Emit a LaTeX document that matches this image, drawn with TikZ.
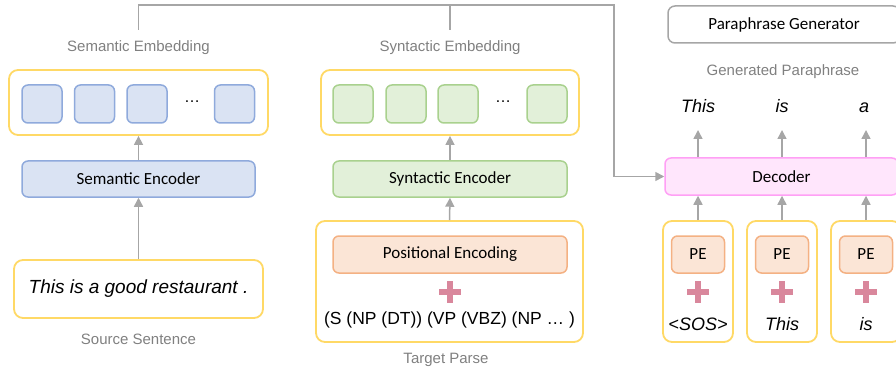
\documentclass[tikz,border=0pt]{standalone}
\usepackage{fontspec}
\setmainfont{Liberation Sans}
\newfontfamily\calfont{Carlito}
\usetikzlibrary{arrows.meta,calc}
\definecolor{yellowB}{HTML}{FFD966}
\definecolor{blueF}{HTML}{DAE3F3}
\definecolor{blueB}{HTML}{8FAADC}
\definecolor{greenF}{HTML}{E2F0D9}
\definecolor{greenB}{HTML}{A9D18E}
\definecolor{orangeF}{HTML}{FBE5D6}
\definecolor{orangeB}{HTML}{F4B183}
\definecolor{pinkF}{HTML}{FFE6FC}
\definecolor{pinkB}{HTML}{FFA0F5}
\definecolor{plusC}{HTML}{D9879C}
\definecolor{labelC}{HTML}{808080}
\definecolor{arrowC}{HTML}{A6A6A6}
\begin{document}
\begin{tikzpicture}[x=1pt,y=-1pt,
  cont/.style={draw=yellowB, line width=1.8pt, fill=white, rounded corners=9pt, inner sep=0pt},
  bluebox/.style={draw=blueB, line width=1.5pt, fill=blueF, rounded corners=6pt, inner sep=0pt},
  greenbox/.style={draw=greenB, line width=1.5pt, fill=greenF, rounded corners=6pt, inner sep=0pt},
  orangebox/.style={draw=orangeB, line width=1.5pt, fill=orangeF, rounded corners=6pt, inner sep=0pt, font=\calfont\fontsize{17}{20}\selectfont},
  pinkbox/.style={draw=pinkB, line width=1.5pt, fill=pinkF, rounded corners=6pt, inner sep=0pt, font=\calfont\fontsize{17}{20}\selectfont},
  graybox/.style={draw=arrowC, line width=1.5pt, fill=white, rounded corners=7pt, inner sep=0pt, font=\calfont\fontsize{17}{20}\selectfont},
  enclabel/.style={font=\calfont\fontsize{17}{20}\selectfont},
  graylabel/.style={text=labelC, font=\fontsize{15}{18}\selectfont, inner sep=0pt},
  emb/.style={minimum width=40pt, minimum height=38pt},
  dots/.style={font=\fontsize{16}{18}\selectfont, inner sep=0pt},
  word/.style={font=\itshape\fontsize{18}{21}\selectfont, inner sep=0pt},
  plussign/.style={minimum size=21pt, inner sep=0pt},
  arr/.style={draw=arrowC, line width=1.5pt, -{Triangle[length=9pt,width=9pt]}},
  plain/.style={draw=arrowC, line width=1.5pt}
]
\useasboundingbox (0,0) rectangle (896,374);

% ---------- Semantic column ----------
\node[graylabel] (semlab) at (138.5,48) {Semantic Embedding};
\node[cont, minimum width=259pt, minimum height=65pt] (semcont) at (138.5,102.5) {};
\node[bluebox, emb] (b1) at (42,104) {};
\node[bluebox, emb] (b2) at (94.5,104) {};
\node[bluebox, emb] (b3) at (147,104) {};
\node[dots] (bd) at (192,102) {\dots};
\node[bluebox, emb] (b4) at (234.5,104) {};
\node[bluebox, enclabel, minimum width=233pt, minimum height=36pt] (semenc) at (138.5,179) {Semantic Encoder};
\node[cont, minimum width=249pt, minimum height=58pt, font=\itshape\fontsize{19}{22}\selectfont] (src) at (138.5,289) {This is a good restaurant .};
\node[graylabel] (srclab) at (138.5,339) {Source Sentence};
\draw[arr] (src.north) -- (semenc.south);
\draw[arr] (semenc.north) -- (semcont.south);

% ---------- Syntactic column ----------
\node[graylabel] (synlab) at (450,48) {Syntactic Embedding};
\node[cont, minimum width=258pt, minimum height=65pt] (syncont) at (450,102.5) {};
\node[greenbox, emb] (g1) at (353,104) {};
\node[greenbox, emb] (g2) at (406,104) {};
\node[greenbox, emb] (g3) at (458,104) {};
\node[dots] (gd) at (503,102) {\dots};
\node[greenbox, emb] (g4) at (547,104) {};
\node[greenbox, enclabel, minimum width=234pt, minimum height=36pt] (synenc) at (450,179) {Syntactic Encoder};
\node[cont, minimum width=267pt, minimum height=121pt] (tgt) at (449.5,281.5) {};
\node[orangebox, minimum width=234pt, minimum height=37pt] (pe0) at (450,254.5) {Positional Encoding};
\node[plussign] (p0) at (450,292) {};
\draw[plusC, line width=6.5pt] (p0.north) -- (p0.south) (p0.west) -- (p0.east);
\node[font=\fontsize{17.5}{20}\selectfont, inner sep=0pt] (parse) at (449.5,320) {(S (NP (DT)) (VP (VBZ) (NP \dots\ )};
\node[graylabel] (tgtlab) at (446,360) {Target Parse};
\draw[arr] (tgt.north) -- (synenc.south);
\draw[arr] (synenc.north) -- (syncont.south);

% ---------- Generator ----------
\node[graybox, minimum width=232pt, minimum height=37pt] (gen) at (784,24.5) {Paraphrase Generator};
\node[graylabel] (genlab) at (783,72) {Generated Paraphrase};
\node[pinkbox, minimum width=233pt, minimum height=37pt] (dec) at (781.5,176.5) {Decoder};

\foreach \i/\x/\w in {1/698/{<SOS>},2/782/This,3/866/is}{
  \node[cont, minimum width=70pt, minimum height=121pt] (in\i) at (\x,281.5) {};
  \node[orangebox, minimum width=53pt, minimum height=37pt] (pe\i) at (\x,254.5) {PE};
  \node[plussign] (pl\i) at (\x,292) {};
  \draw[plusC, line width=6.5pt] (pl\i.north) -- (pl\i.south) (pl\i.west) -- (pl\i.east);
  \node[word, anchor=base] (iw\i) at (\x,330) {\w};
  \draw[arr] (in\i.north) -- (in\i.north |- dec.south);
}
\node[word, anchor=base] (w1) at (698,113) {This};
\node[word, anchor=base] (w2) at (782,113) {is};
\node[word, anchor=base] (w3) at (864,113) {a};
\draw[arr, shorten >=17pt] (dec.north -| in1) -- (in1 |- w1.base);
\draw[arr, shorten >=17pt] (dec.north -| in2) -- (in2 |- w2.base);
\draw[arr, shorten >=17pt] (dec.north -| in3) -- (in3 |- w3.base);

% ---------- top connector ----------
\coordinate (semtop) at (138.5,30);
\coordinate (syntop) at (450,30);
\coordinate (turn) at (614,5);
\draw[plain] (syntop) -- (syntop |- turn);
\draw[arr, rounded corners=0pt] (semtop) |- (turn) |- (dec.west);
\end{tikzpicture}
\end{document}
